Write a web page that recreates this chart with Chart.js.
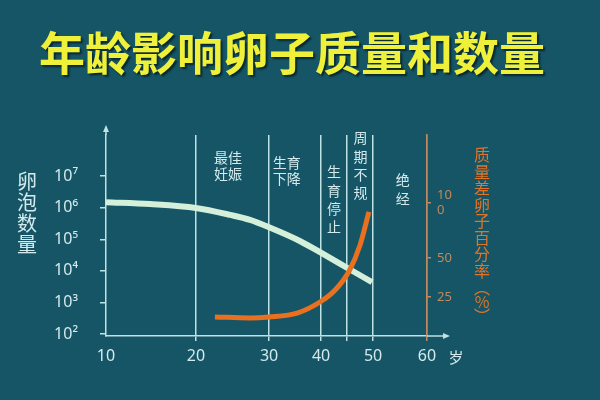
<!DOCTYPE html>
<html><head><meta charset="utf-8">
<script src="https://cdn.jsdelivr.net/npm/chart.js@4.4.1/dist/chart.umd.min.js"></script>
<style>html,body{margin:0;padding:0;background:#155566;}canvas{display:block}</style>
</head><body>
<canvas id="c" width="600" height="400"></canvas>
<script>
// ---- data ----
const titleText = '年龄影响卵子质量和数量';
const leftAxisTitle = '卵泡数量';
const rightAxisTitle = ['质','量','差','卵','子','百','分','率','︵','%','︶'];
const ageUnit = '岁';
const ageTicks = [10, 20, 30, 40, 45, 50, 60];
const ageTickLabels = ['10', '20', '30', '40', '', '50', '60'];
const follicleTicks = [1e2, 1e3, 1e4, 1e5, 1e6, 1e7];
const follicleTickLabels = ['10²', '10³', '10⁴', '10⁵', '10⁶', '10⁷'];
const qualityTicks = [25, 50, 100];
const qualityTickLabels = ['25', '50', ['10', '0']];
const follicleAges = [10, 14.9, 20, 24.7, 27.4, 30, 36, 39.8, 45.4, 49.8];
const follicleCounts = [1.5e6, 1.3e6, 9.8e5, 5.9e5, 4.1e5, 2.4e5, 8.7e4, 3.9e4, 1.15e4, 4.4e3];
const poorAges = [22.6, 27.4, 30, 35.4, 39.8, 42.7, 45.4, 47.5, 49.2];
const poorPercent = [12.2, 11.6, 12.2, 14.7, 21.8, 29.5, 41.7, 61.8, 91.8];
const stageNames = [['最佳', '妊娠'], ['生育', '下降'], ['生', '育', '停', '止'], ['周', '期', '不', '规'], ['绝', '经']];
const stageAges = [24.4, 33.4, 42.5, 47.6, 55.5];

// ---- piecewise linear scale (hand-drawn uneven axes) ----
class PiecewiseScale extends Chart.LinearScale {
  _frac(v) {
    const b = this.options.breaks, f = this.options.fracs;
    let i = 0;
    while (i < b.length - 2 && v > b[i + 1]) i++;
    return f[i] + (v - b[i]) / (b[i + 1] - b[i]) * (f[i + 1] - f[i]);
  }
  getPixelForValue(value) {
    return this.getPixelForDecimal(this._frac(value));
  }
  getValueForPixel(pixel) {
    const d = this.getDecimalForPixel(pixel);
    const b = this.options.breaks, f = this.options.fracs;
    let i = 0;
    while (i < f.length - 2 && d > f[i + 1]) i++;
    return b[i] + (d - f[i]) / (f[i + 1] - f[i]) * (b[i + 1] - b[i]);
  }
}
PiecewiseScale.id = 'piecewise';
PiecewiseScale.defaults = {};
Chart.register(PiecewiseScale);

const pale = '#bfe2e4';
const paleText = '#d4eaec';
const tan = '#c08a5c';
const cjk = '"Noto Sans CJK SC", sans-serif';
const num = '"Noto Sans", "DejaVu Sans", sans-serif';

const decor = {
  id: 'decor',
  beforeDraw(chart) {
    const c = chart.ctx;
    c.save();
    c.fillStyle = '#155566';
    c.fillRect(0, 0, chart.width, chart.height);
    c.restore();
  },
  afterDraw(chart) {
    const c = chart.ctx, a = chart.chartArea, xs = chart.scales.x;
    c.save();
    // axis arrows
    c.strokeStyle = pale; c.fillStyle = pale; c.lineWidth = 1.5;
    c.beginPath(); c.moveTo(a.left, a.top); c.lineTo(a.left, a.top - 6); c.stroke();
    c.beginPath(); c.moveTo(a.left, a.top - 10); c.lineTo(a.left - 3, a.top - 3); c.lineTo(a.left + 3, a.top - 3); c.closePath(); c.fill();
    c.beginPath(); c.moveTo(a.right, a.bottom); c.lineTo(a.right + 18, a.bottom); c.stroke();
    c.beginPath(); c.moveTo(a.right + 23, a.bottom); c.lineTo(a.right + 16, a.bottom - 3); c.lineTo(a.right + 16, a.bottom + 3); c.closePath(); c.fill();
    // title
    c.save();
    c.font = 'bold 46px ' + cjk;
    c.textBaseline = 'middle'; c.textAlign = 'left';
    c.shadowColor = 'rgba(0,0,0,0.55)'; c.shadowOffsetX = 2; c.shadowOffsetY = 2; c.shadowBlur = 2;
    c.fillStyle = '#eef03a';
    c.fillText(titleText, 39, 53);
    c.restore();
    c.textAlign = 'center'; c.textBaseline = 'middle';
    // left axis title
    c.fillStyle = paleText; c.font = '20px ' + cjk;
    [...leftAxisTitle].forEach((ch, i) => c.fillText(ch, 27, 181 + i * 21));
    // right axis title
    c.fillStyle = '#e07428'; c.font = '16px ' + cjk;
    rightAxisTitle.forEach((ch, i) => {
      const y = i < 8 ? 155 + i * 16.5 : 288 + (i - 8) * 14;
      c.fillText(ch, 482, y);
    });
    // stage labels
    c.fillStyle = paleText; c.font = '14px ' + cjk;
    const tops = [158, 163, 172, 138, 180];
    stageNames.forEach((lines, k) => {
      const x = xs.getPixelForValue(stageAges[k]);
      const step = lines.length > 2 || lines[0].length === 1 ? 18.3 : 15.5;
      lines.forEach((t, j) => c.fillText(t, x, tops[k] + j * step));
    });
    // unit
    c.font = '15px ' + cjk; c.fillStyle = paleText;
    c.fillText(ageUnit, 456, 357);
    c.restore();
  }
};

new Chart(document.getElementById('c'), {
  type: 'line',
  data: {
    datasets: [
      {
        label: '质量差卵子百分率',
        data: poorAges.map((x, i) => ({ x, y: poorPercent[i] })),
        yAxisID: 'y1',
        borderColor: '#e8701f',
        borderWidth: 5,
        pointRadius: 0,
        cubicInterpolationMode: 'monotone',
        fill: false
      },
      {
        label: '卵泡数量',
        data: follicleAges.map((x, i) => ({ x, y: follicleCounts[i] })),
        yAxisID: 'y',
        borderColor: '#d4f0da',
        borderWidth: 6,
        pointRadius: 0,
        cubicInterpolationMode: 'monotone',
        fill: false
      }
    ]
  },
  options: {
    responsive: false,
    animation: false,
    devicePixelRatio: 1,
    layout: { padding: { top: 135, left: 0, right: 0, bottom: 0 } },
    plugins: { legend: { display: false }, tooltip: { enabled: false }, title: { display: false } },
    scales: {
      x: {
        type: 'piecewise',
        breaks: [10, 20, 30, 40, 50, 60],
        fracs: [0, 0.280, 0.508, 0.670, 0.832, 1],
        min: 10, max: 60, bounds: 'data',
        afterBuildTicks: s => { s.ticks = ageTicks.map(v => ({ value: v })); },
        afterFit: s => { s.height = 64; },
        ticks: {
          callback: (v, i) => ageTickLabels[i],
          color: paleText, font: { size: 16, family: num },
          padding: 6, maxRotation: 0, autoSkip: false
        },
        grid: {
          color: ctx => {
            const v = ctx.tick ? ctx.tick.value : 0;
            if (v === 10) return 'rgba(0,0,0,0)';
            if (v === 60) return tan;
            return pale;
          },
          lineWidth: 1.5, tickLength: 5, drawOnChartArea: true
        },
        border: { color: pale, width: 1.5 }
      },
      y: {
        type: 'logarithmic',
        position: 'left',
        min: 87, max: 2e8, bounds: 'data',
        afterBuildTicks: s => { s.ticks = follicleTicks.map(v => ({ value: v })); },
        afterFit: s => { s.width = 106; },
        ticks: {
          callback: (v, i) => follicleTickLabels[i],
          color: paleText, font: { size: 16, family: num },
          padding: 22, autoSkip: false
        },
        grid: { drawOnChartArea: false, color: pale, tickLength: 6, lineWidth: 1.5 },
        border: { color: pale, width: 1.5 }
      },
      y1: {
        type: 'piecewise',
        position: 'right',
        breaks: [0, 25, 50, 100, 160],
        fracs: [0, 0.194, 0.388, 0.662, 1],
        min: 0, max: 160, bounds: 'data',
        afterBuildTicks: s => { s.ticks = qualityTicks.map(v => ({ value: v })); },
        afterFit: s => { s.width = 173; },
        ticks: {
          callback: (v, i) => qualityTickLabels[i],
          color: tan, font: { size: 13, family: num, lineHeight: 1.15 },
          padding: 6, autoSkip: false
        },
        grid: { drawOnChartArea: false, color: tan, tickLength: 4, lineWidth: 1.5 },
        border: { color: tan, width: 1.5 }
      }
    }
  },
  plugins: [decor]
});
</script>
</body></html>
